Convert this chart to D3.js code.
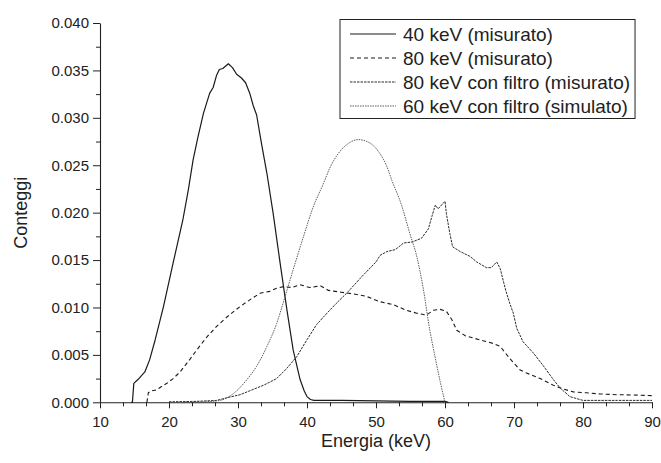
<!DOCTYPE html>
<html>
<head>
<meta charset="utf-8">
<script src="https://cdn.jsdelivr.net/npm/d3@7"></script>
<style>
  html, body { margin: 0; padding: 0; background: #fff; }
  svg { display: block; font-family: "Liberation Sans", Arial, sans-serif; }
</style>
</head>
<body>
<svg id="chart" width="661" height="463"></svg>
<script>
// Energy spectra: 40 keV, 80 keV, 80 keV filtered (measured) and 60 keV filtered (simulated)
const seriesNames = [
  "40 keV (misurato)",
  "80 keV (misurato)",
  "80 keV con filtro (misurato)",
  "60 keV con filtro (simulato)"
];

const energy40 = [14.5, 14.7, 14.9, 15.5, 16.5, 17.2, 18.0, 19.2, 20.6, 22.0, 22.8, 23.5, 24.2, 25.0, 25.9, 26.4, 26.9, 27.3, 27.8, 28.6, 29.2, 29.8, 30.5, 31.1, 31.7, 32.2, 32.7, 33.4, 34.2, 35.1, 36.1, 37.1, 38.0, 39.0, 39.6, 40.0, 40.5, 41.0, 45, 50, 55, 60, 60.5];
const counts40 = [0, 0, 0.0020, 0.0024, 0.0032, 0.0045, 0.0066, 0.0101, 0.0147, 0.0192, 0.0224, 0.0256, 0.0280, 0.0305, 0.0326, 0.0332, 0.0345, 0.0351, 0.0352, 0.0357, 0.0353, 0.0346, 0.0342, 0.0337, 0.0326, 0.0313, 0.0303, 0.0273, 0.0241, 0.0199, 0.0147, 0.0097, 0.0055, 0.0024, 0.0012, 0.0006, 0.0003, 0.0002, 0.0002, 0.00015, 0.0001, 0.0001, 0];

const energy80 = [16.8, 17.0, 17.4, 18.2, 19.0, 19.7, 20.6, 21.6, 23.0, 24.0, 25.5, 26.9, 28.4, 30.3, 31.7, 33.2, 34.6, 35.5, 36.6, 37.8, 39.0, 40.4, 41.2, 41.9, 43.1, 45, 47, 48.5, 50.6, 52.5, 54.4, 55.9, 57.3, 58.3, 59.3, 60.2, 61.0, 61.7, 63.0, 65.0, 67.0, 68.0, 69.4, 70.9, 71.8, 73.8, 75.7, 77.1, 78.6, 80.5, 82.5, 85, 87.3, 90];
const counts80 = [0, 0.0010, 0.0012, 0.0013, 0.0017, 0.0020, 0.0025, 0.0032, 0.0045, 0.0055, 0.0069, 0.0080, 0.0090, 0.0101, 0.0108, 0.0115, 0.0117, 0.0120, 0.0122, 0.0121, 0.0124, 0.0121, 0.0122, 0.0123, 0.0118, 0.0116, 0.0114, 0.0112, 0.0106, 0.0103, 0.0097, 0.0094, 0.0092, 0.0097, 0.0098, 0.0096, 0.0087, 0.0076, 0.0070, 0.0066, 0.0062, 0.0059, 0.0046, 0.0034, 0.0031, 0.0025, 0.0018, 0.0014, 0.0011, 0.0010, 0.00088, 0.0008, 0.00077, 0.0007];

const energy80f = [20, 24, 26.9, 28.5, 30.3, 32.0, 33.7, 35.6, 37.1, 38.5, 40.0, 41.4, 42.9, 44.2, 46.0, 48.0, 50.0, 50.6, 51.6, 52.8, 54.0, 55.2, 56.6, 57.6, 58.1, 58.6, 59.0, 59.5, 60.0, 60.2, 60.7, 61.1, 62.2, 63.6, 64.6, 66.0, 66.7, 67.5, 68.0, 68.8, 69.4, 69.9, 70.4, 71.3, 72.8, 74.2, 75.7, 76.7, 78.1, 80.0, 85, 90];
const counts80f = [0.00005, 0.0001, 0.0002, 0.0005, 0.0008, 0.0013, 0.0018, 0.0025, 0.0036, 0.0048, 0.0066, 0.0082, 0.0094, 0.0104, 0.0117, 0.0133, 0.0148, 0.0155, 0.0159, 0.0161, 0.0168, 0.0169, 0.0173, 0.0183, 0.0196, 0.0208, 0.0204, 0.0208, 0.0212, 0.0199, 0.0178, 0.0164, 0.0159, 0.0154, 0.0148, 0.0142, 0.0142, 0.0148, 0.0141, 0.0118, 0.0104, 0.0094, 0.0078, 0.0064, 0.0052, 0.0039, 0.0024, 0.0015, 0.0006, 0.0002, 0.0002, 0.0002];

const energy60s = [22, 25, 27.4, 29.3, 31.3, 32.7, 34.2, 35.6, 36.8, 38.0, 39.5, 40.9, 42.4, 43.3, 44.5, 46.0, 47.4, 49.0, 50.5, 51.5, 52.3, 53.7, 54.9, 55.9, 56.8, 57.8, 58.5, 59.3, 60.0];
const counts60s = [0, 0.00005, 0.0002, 0.0009, 0.0024, 0.0038, 0.0059, 0.0083, 0.0111, 0.0140, 0.0175, 0.0206, 0.0231, 0.0247, 0.0262, 0.0273, 0.0277, 0.0274, 0.0263, 0.0250, 0.0234, 0.0208, 0.0178, 0.0154, 0.0122, 0.0076, 0.0050, 0.0022, 0];

const xTicks = [10, 20, 30, 40, 50, 60, 70, 80, 90];
const yTicks = [0, 0.005, 0.010, 0.015, 0.020, 0.025, 0.030, 0.035, 0.040];

const xTitle = "Energia (keV)";
const yTitle = "Conteggi";

// Line styles per series
const styles = [
  { stroke: "#1a1a1a", width: 1.2, dash: null, curve: d3.curveLinear },
  { stroke: "#1a1a1a", width: 1.1, dash: "4,3", curve: d3.curveLinear },
  { stroke: "#2a2a2a", width: 1.0, dash: "2.5,1", curve: d3.curveLinear },
  { stroke: "#4a4a4a", width: 0.9, dash: "1.5,1", curve: d3.curveMonotoneX }
];

const series = [
  d3.zip(energy40, counts40),
  d3.zip(energy80, counts80),
  d3.zip(energy80f, counts80f),
  d3.zip(energy60s, counts60s)
];

const svg = d3.select("#chart");
const plotLeft = 100, plotRight = 652, plotTop = 23, plotBottom = 402.3;

const x = d3.scaleLinear().domain([10, 90]).range([plotLeft, plotRight]);
const y = d3.scaleLinear().domain([0, 0.04]).range([plotBottom, plotTop]);

const axisColor = "#222";

// Minor ticks: two per decade on x, one per half step on y
const xMinor = [];
for (let i = 0; i < xTicks.length - 1; i++) {
  const a = xTicks[i], b = xTicks[i + 1];
  xMinor.push(a + (b - a) / 3, a + 2 * (b - a) / 3);
}
const yMinor = [];
for (let i = 0; i < yTicks.length - 1; i++) {
  yMinor.push((yTicks[i] + yTicks[i + 1]) / 2);
}

// X axis
const gx = svg.append("g").attr("transform", `translate(0,${plotBottom})`);
gx.call(d3.axisBottom(x).tickValues(xMinor).tickSize(4).tickFormat(""));
gx.call(g => g.selectAll(".domain").remove());
const gxMajor = svg.append("g").attr("transform", `translate(0,${plotBottom})`)
  .call(d3.axisBottom(x).tickValues(xTicks).tickSizeInner(6).tickSizeOuter(0).tickPadding(8).tickFormat(d3.format("d")));
gxMajor.selectAll("text").attr("font-size", 15).attr("fill", axisColor);

// Y axis
const gy = svg.append("g").attr("transform", `translate(${plotLeft},0)`);
gy.call(d3.axisLeft(y).tickValues(yMinor).tickSize(4).tickFormat(""));
gy.call(g => g.selectAll(".domain").remove());
const gyMajor = svg.append("g").attr("transform", `translate(${plotLeft},0)`)
  .call(d3.axisLeft(y).tickValues(yTicks).tickSizeInner(7).tickSizeOuter(0).tickPadding(4).tickFormat(d3.format(".3f")));
gyMajor.selectAll("text").attr("font-size", 15).attr("fill", axisColor);

svg.selectAll(".tick line").attr("stroke", axisColor).attr("stroke-width", 1);
svg.selectAll(".domain").attr("stroke", axisColor).attr("stroke-width", 1.1);

// Axis titles
svg.append("text")
  .attr("x", (plotLeft + plotRight) / 2)
  .attr("y", 447)
  .attr("text-anchor", "middle")
  .attr("font-size", 18)
  .attr("fill", axisColor)
  .text(xTitle);

svg.append("text")
  .attr("transform", `translate(27,${(plotTop + plotBottom) / 2}) rotate(-90)`)
  .attr("text-anchor", "middle")
  .attr("font-size", 18)
  .attr("fill", axisColor)
  .text(yTitle);

// Curves
const line = d3.line().x(d => x(d[0])).y(d => y(d[1]));
series.forEach((data, i) => {
  const s = styles[i];
  svg.append("path")
    .datum(data)
    .attr("fill", "none")
    .attr("stroke", s.stroke)
    .attr("stroke-width", s.width)
    .attr("stroke-dasharray", s.dash)
    .attr("stroke-linejoin", "round")
    .attr("d", line.curve(s.curve));
});

// Legend
const legX = 340, legY = 19.5, rowH = 24, legFont = 19;
const legend = svg.append("g");
const box = legend.append("rect")
  .attr("x", legX)
  .attr("y", legY)
  .attr("height", rowH * seriesNames.length + 3)
  .attr("fill", "#fff")
  .attr("stroke", axisColor)
  .attr("stroke-width", 1);

let maxRight = 0;
seriesNames.forEach((name, i) => {
  const cy = legY + 14.5 + i * rowH;
  const s = styles[i];
  legend.append("line")
    .attr("x1", legX + 10).attr("x2", legX + 56)
    .attr("y1", cy).attr("y2", cy)
    .attr("stroke", s.stroke)
    .attr("stroke-width", s.width)
    .attr("stroke-dasharray", s.dash);
  const t = legend.append("text")
    .attr("x", legX + 63)
    .attr("y", cy)
    .attr("dy", "0.36em")
    .attr("font-size", legFont)
    .attr("fill", axisColor)
    .text(name);
  const bb = t.node().getBBox();
  maxRight = Math.max(maxRight, bb.x + bb.width);
});
box.attr("width", maxRight + 5 - legX);
</script>
</body>
</html>
